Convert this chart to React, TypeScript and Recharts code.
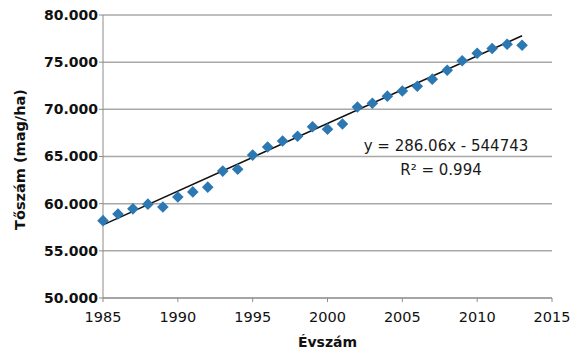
import { ScatterChart, Scatter, XAxis, YAxis, CartesianGrid, ReferenceLine } from 'recharts';

const years = [
  1985, 1986, 1987, 1988, 1989, 1990, 1991, 1992, 1993, 1994,
  1995, 1996, 1997, 1998, 1999, 2000, 2001, 2002, 2003, 2004,
  2005, 2006, 2007, 2008, 2009, 2010, 2011, 2012, 2013,
];
const density = [
  58200, 58900, 59450, 59950, 59650, 60700, 61250, 61750, 63450, 63650,
  65150, 66000, 66650, 67150, 68150, 67900, 68450, 70250, 70650, 71400,
  71950, 72450, 73200, 74150, 75150, 75950, 76450, 76900, 76800,
];
const xTicks = [1985, 1990, 1995, 2000, 2005, 2010, 2015];
const yTicks = [50000, 55000, 60000, 65000, 70000, 75000, 80000];
// trend line end points
const trendYears = [1985, 2013];
const trendValues = [57750, 77800];

const points = years.map((year, i) => ({ year, value: density[i] }));

const font = '"DejaVu Sans", Verdana, sans-serif';

const Diamond = (props: any) => {
  const { cx, cy } = props;
  const r = 5.8;
  return (
    <polygon
      points={`${cx},${cy - r} ${cx + r},${cy} ${cx},${cy + r} ${cx - r},${cy}`}
      fill="#2b78b3"
    />
  );
};

export default function App() {
  return (
    <div style={{ position: 'absolute', left: 0, top: 0, width: 587, height: 353, background: '#fff', fontFamily: font }}>
      <ScatterChart width={587} height={353} margin={{ top: 15, right: 35, bottom: 0, left: 0 }}>
        <CartesianGrid vertical={false} stroke="#a8a8a8" strokeWidth={1.5} />
        <XAxis
          type="number"
          dataKey="year"
          domain={[1985, 2015]}
          ticks={xTicks}
          height={55}
          tickSize={4}
          tickMargin={10}
          stroke="#8c8c8c"
          tick={{ fill: '#111', fontSize: 14.5, fontFamily: font }}
          label={{ value: 'Évszám', position: 'insideBottom', offset: 6, fill: '#111', fontSize: 14, fontWeight: 'bold', fontFamily: font }}
        />
        <YAxis
          type="number"
          dataKey="value"
          domain={[50000, 80000]}
          ticks={yTicks}
          width={103}
          tickSize={4}
          tickMargin={1}
          stroke="#8c8c8c"
          tickFormatter={(v: number) => (v / 1000).toFixed(3)}
          tick={{ fill: '#111', fontSize: 14, fontWeight: 'bold', fontFamily: font }}
          label={{
            value: 'Tőszám (mag/ha)',
            content: (p: any) => {
              const vb = p.viewBox;
              const x = 20;
              const y = vb.y + vb.height / 2 + 3;
              return (
                <text
                  x={x}
                  y={y}
                  transform={`rotate(-90 ${x} ${y})`}
                  textAnchor="middle"
                  dominantBaseline="central"
                  fill="#111"
                  fontSize={14.5}
                  fontWeight="bold"
                  fontFamily={font}
                >
                  Tőszám (mag/ha)
                </text>
              );
            },
          }}
        />
        <ReferenceLine
          segment={[
            { x: trendYears[0], y: trendValues[0] },
            { x: trendYears[1], y: trendValues[1] },
          ]}
          stroke="#111"
          strokeWidth={1.6}
          ifOverflow="visible"
        />
        <Scatter data={points} shape={<Diamond />} isAnimationActive={false} />
      </ScatterChart>
      <div style={{ position: 'absolute', left: 346, width: 200, top: 137, lineHeight: '18px', textAlign: 'center', fontSize: 15, color: '#1a1a1a' }}>
        y = 286.06x - 544743
      </div>
      <div style={{ position: 'absolute', left: 341, width: 200, top: 161, lineHeight: '18px', textAlign: 'center', fontSize: 15, color: '#1a1a1a' }}>
        R² = 0.994
      </div>
    </div>
  );
}
